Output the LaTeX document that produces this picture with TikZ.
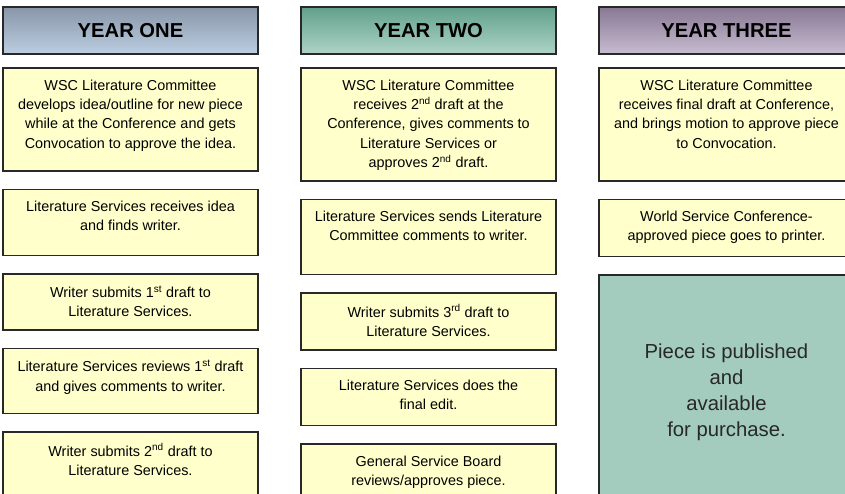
\documentclass[tikz,border=0pt]{standalone}
\usepackage{fontspec}
\setmainfont{Liberation Sans}
\usetikzlibrary{positioning}

\definecolor{edge}{RGB}{40,40,40}
\definecolor{paleyel}{RGB}{255,255,204}
\definecolor{pubteal}{RGB}{163,203,190}
\definecolor{oneTop}{RGB}{136,150,168}
\definecolor{oneBot}{RGB}{188,206,226}
\definecolor{twoTop}{RGB}{98,160,140}
\definecolor{twoBot}{RGB}{174,212,198}
\definecolor{threeTop}{RGB}{136,120,148}
\definecolor{threeBot}{RGB}{198,188,208}

\begin{document}
\begin{tikzpicture}[
  x=1pt, y=-1pt,
  head/.style={draw=edge, line width=1.2pt, minimum width=255pt, minimum height=47pt, inner sep=0pt, outer sep=0pt, font=\fontsize{20.2}{22}\selectfont\bfseries},
  stepbox/.style={draw=edge, fill=paleyel, line width=1.2pt, minimum width=255pt, inner sep=0pt, outer sep=0pt},
  txt/.style={anchor=north, align=center, inner sep=0pt, font=\fontsize{14.4}{19.3}\selectfont},
  node distance=18.5pt
]
\clip (0,0) rectangle (845,493);

% year one
\node[head, top color=oneTop, bottom color=oneBot, anchor=north west] (y1) at (3,7) {YEAR ONE};
\node[stepbox, minimum height=103pt, below=14pt of y1] (a1) {};
\node[stepbox, minimum height=66pt, below=of a1] (a2) {};
\node[stepbox, minimum height=56pt, below=of a2] (a3) {};
\node[stepbox, minimum height=65pt, below=of a3] (a4) {};
\node[stepbox, minimum height=80pt, below=of a4] (a5) {};
\node[txt, below=11.5pt of a1.north] (a1t) {WSC Literature Committee\\develops idea/outline for new piece\\while at the Conference and gets\\Convocation to approve the idea.};
\node[txt, below=11.5pt of a2.north] (a2t) {Literature Services receives idea\\and finds writer.};
\node[txt, below=11.5pt of a3.north] (a3t) {Writer submits 1\textsuperscript{st} draft to\\Literature Services.};
\node[txt, below=11.5pt of a4.north] (a4t) {Literature Services reviews 1\textsuperscript{st} draft\\and gives comments to writer.};
\node[txt, below=11.5pt of a5.north] (a5t) {Writer submits 2\textsuperscript{nd} draft to\\Literature Services.};

% year two
\node[head, top color=twoTop, bottom color=twoBot, anchor=north west] (y2) at (301,7) {YEAR TWO};
\node[stepbox, minimum height=113pt, below=14pt of y2] (b1) {};
\node[stepbox, minimum height=75pt, below=of b1] (b2) {};
\node[stepbox, minimum height=57pt, below=of b2] (b3) {};
\node[stepbox, minimum height=57pt, below=of b3] (b4) {};
\node[stepbox, minimum height=70pt, below=of b4] (b5) {};
\node[txt, below=11.5pt of b1.north] (b1t) {WSC Literature Committee\\receives 2\textsuperscript{nd} draft at the\\Conference, gives comments to\\Literature Services or\\approves 2\textsuperscript{nd} draft.};
\node[txt, below=11.5pt of b2.north] (b2t) {Literature Services sends Literature\\Committee comments to writer.};
\node[txt, below=11.5pt of b3.north] (b3t) {Writer submits 3\textsuperscript{rd} draft to\\Literature Services.};
\node[txt, below=11.5pt of b4.north] (b4t) {Literature Services does the\\final edit.};
\node[txt, below=11.5pt of b5.north] (b5t) {General Service Board\\reviews/approves piece.};

% year three
\node[head, top color=threeTop, bottom color=threeBot, anchor=north west] (y3) at (599,7) {YEAR THREE};
\node[stepbox, minimum height=113pt, below=14pt of y3] (c1) {};
\node[stepbox, minimum height=57pt, below=of c1] (c2) {};
\node[stepbox, fill=pubteal, minimum height=240pt, below=of c2] (c3) {};
\node[txt, below=11.5pt of c1.north] (c1t) {WSC Literature Committee\\receives final draft at Conference,\\and brings motion to approve piece\\to Convocation.};
\node[txt, below=11.5pt of c2.north] (c2t) {World Service Conference-\\approved piece goes to printer.};
\node[txt, font=\fontsize{20.3}{25.7}\selectfont, text=edge, below=69pt of c3.north] (c3t) {Piece is published\\and\\available\\for purchase.};
\end{tikzpicture}
\end{document}
